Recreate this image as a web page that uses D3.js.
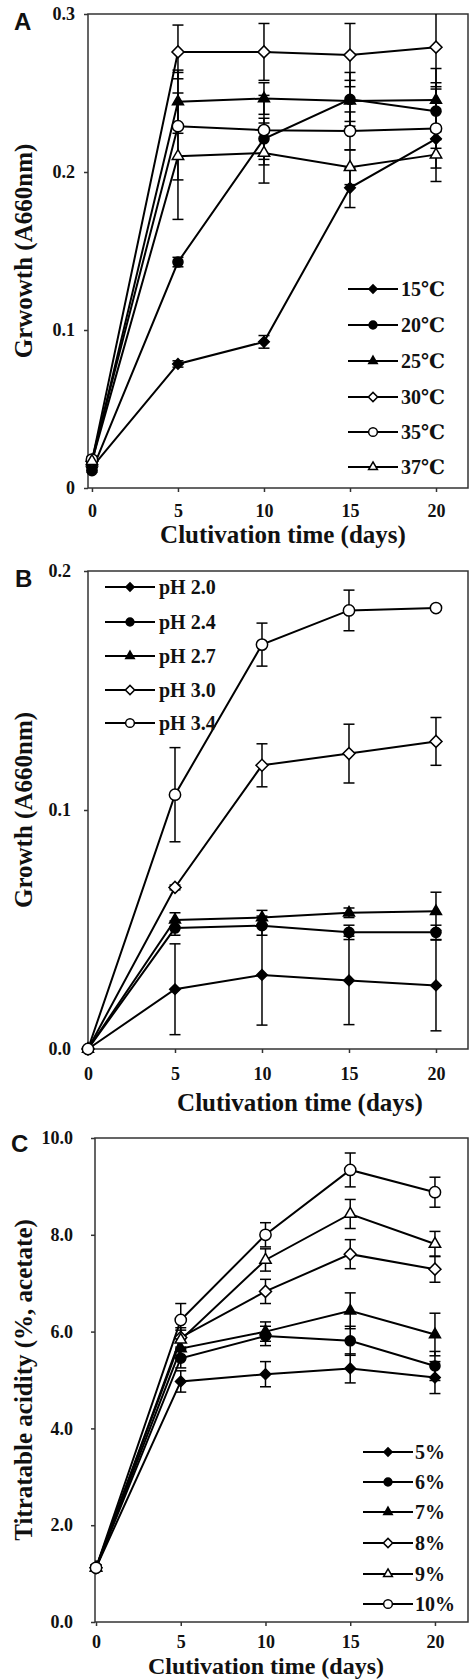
<!DOCTYPE html>
<html>
<head>
<meta charset="utf-8">
<script src="https://cdn.jsdelivr.net/npm/d3@7"></script>
<style>
body { margin: 0; background: #fff; }
text { font-family: "Liberation Serif", "DejaVu Serif", serif; font-weight: bold; fill: #111; }
</style>
</head>
<body>
<script>
// sampling days shared by all three panels
var days = [0, 5, 10, 15, 20];
var dayTicks = [0, 5, 10, 15, 20];

// A - temperature
var tempLabels = ["15\u2103", "20\u2103", "25\u2103", "30\u2103", "35\u2103", "37\u2103"];
var tempGrowth = [
  [0.013, 0.0785, 0.0925, 0.190, 0.221],
  [0.011, 0.143, 0.221, 0.246, 0.2385],
  [0.016, 0.2445, 0.2465, 0.245, 0.2455],
  [0.017, 0.276, 0.276, 0.274, 0.279],
  [0.018, 0.229, 0.2265, 0.226, 0.2275],
  [0.017, 0.210, 0.212, 0.203, 0.211]
];
var tempErr = [
  [0.002, 0.002, 0.004, 0.0125, 0.006],
  [0.001, 0.003, 0.013, 0.017, 0.018],
  [0.002, 0.020, 0.010, 0.013, 0.020],
  [0.002, 0.017, 0.018, 0.020, 0.025],
  [0.002, 0.034, 0.022, 0.012, 0.025],
  [0.002, 0.040, 0.019, 0.011, 0.017]
];
var tempTicks = [0, 0.1, 0.2, 0.3];
var tempTickLabels = ["0", "0.1", "0.2", "0.3"];

// B - pH
var phLabels = ["pH 2.0", "pH 2.4", "pH 2.7", "pH 3.0", "pH 3.4"];
var phGrowth = [
  [0, 0.025, 0.031, 0.0287, 0.0266],
  [0, 0.0506, 0.0516, 0.0488, 0.0488],
  [0, 0.054, 0.055, 0.057, 0.0576],
  [0, 0.0676, 0.1187, 0.1236, 0.1287],
  [0, 0.1064, 0.1692, 0.1835, 0.1845]
];
var phErr = [
  [0, 0.019, 0.021, 0.0185, 0.019],
  [0, 0.003, 0.004, 0.003, 0.003],
  [0, 0.003, 0.003, 0.002, 0.008],
  [0, 0.001, 0.009, 0.0123, 0.010],
  [0, 0.0197, 0.009, 0.0085, 0.001]
];
var phTicks = [0, 0.1, 0.2];
var phTickLabels = ["0.0", "0.1", "0.2"];

// C - ethanol
var ethLabels = ["5%", "6%", "7%", "8%", "9%", "10%"];
var ethAcidity = [
  [1.12, 4.97, 5.12, 5.24, 5.05],
  [1.12, 5.45, 5.91, 5.81, 5.29],
  [1.12, 5.65, 6.00, 6.43, 5.94],
  [1.12, 5.88, 6.83, 7.60, 7.29],
  [1.12, 5.83, 7.48, 8.43, 7.81],
  [1.12, 6.24, 8.00, 9.34, 8.88]
];
var ethErr = [
  [0.05, 0.22, 0.26, 0.30, 0.33],
  [0.05, 0.20, 0.20, 0.30, 0.30],
  [0.05, 0.20, 0.20, 0.37, 0.44],
  [0.05, 0.20, 0.25, 0.30, 0.27],
  [0.05, 0.20, 0.23, 0.30, 0.26],
  [0.05, 0.34, 0.25, 0.35, 0.31]
];
var ethTicks = [0, 2, 4, 6, 8, 10];
var ethTickLabels = ["0.0", "2.0", "4.0", "6.0", "8.0", "10.0"];

var markersAB = ["diamondF", "circleF", "triangleF", "diamondO", "circleO", "triangleO"];
var markersC = ["diamondF", "circleF", "triangleF", "diamondO", "triangleO", "circleO"];

var svg = d3.select("body").append("svg")
  .attr("width", 473)
  .attr("height", 1680);

function symbolFor(kind, k) {
  var shape = kind.slice(0, -1), open = kind.slice(-1) == "O";
  var type, size;
  if (shape == "diamond") { type = d3.symbolSquare; size = open ? 72 : 56; }
  else if (shape == "circle") { type = d3.symbolCircle; size = open ? 100 : 80; }
  else { type = d3.symbolTriangle; size = open ? 56 : 52; }
  return { path: d3.symbol().type(type).size(size * k)(), rot: shape == "diamond" ? 45 : 0, open: open };
}

function drawMarker(g, kind, x, y, k) {
  var s = symbolFor(kind, k);
  g.append("path")
    .attr("d", s.path)
    .attr("transform", "translate(" + x + "," + y + ") rotate(" + s.rot + ")")
    .attr("fill", s.open ? "#fff" : "#000")
    .attr("stroke", "#000")
    .attr("stroke-width", 1.5);
}

function drawPanel(p) {
  var g = svg.append("g");
  var x = d3.scaleLinear().domain(p.xDomain).range(p.xRange);
  var y = d3.scaleLinear().domain(p.yDomain).range(p.yRange).clamp(true);

  // frame
  g.append("rect")
    .attr("x", p.xRange[0]).attr("y", p.yRange[1])
    .attr("width", p.xRange[1] - p.xRange[0])
    .attr("height", p.yRange[0] - p.yRange[1])
    .attr("fill", "none").attr("stroke", "#333").attr("stroke-width", 1.5);

  var yAxis = d3.axisLeft(y).tickValues(p.yTicks)
    .tickFormat(function(d, i) { return p.yTickLabels[i]; })
    .tickSize(4).tickPadding(p.yPad);
  var ya = g.append("g").attr("transform", "translate(" + p.xRange[0] + ",0)").call(yAxis);

  var xAxis = d3.axisBottom(x).tickValues(dayTicks).tickSize(4).tickPadding(p.xPad);
  var xa = g.append("g").attr("transform", "translate(0," + p.yRange[0] + ")").call(xAxis);

  [ya, xa].forEach(function(a) {
    a.select(".domain").remove();
    a.selectAll("line").attr("stroke", "#333").attr("stroke-width", 1.5);
    a.selectAll("text").style("font-family", "Liberation Serif, serif")
      .style("font-weight", "bold").style("font-size", "18px").attr("fill", "#111");
  });

  // error bars
  p.values.forEach(function(vals, si) {
    vals.forEach(function(v, i) {
      var e = p.errs[si][i];
      if (e <= 0.0015 * p.yDomain[1]) return;
      var cx = x(days[i]);
      g.append("line").attr("x1", cx).attr("x2", cx)
        .attr("y1", y(v - e)).attr("y2", y(v + e))
        .attr("stroke", "#000").attr("stroke-width", 1.5);
      [v - e, v + e].forEach(function(t) {
        if (t > p.yDomain[1]) return;
        g.append("line").attr("x1", cx - 5.5).attr("x2", cx + 5.5)
          .attr("y1", y(t)).attr("y2", y(t))
          .attr("stroke", "#000").attr("stroke-width", 1.5);
      });
    });
  });

  // lines
  var line = d3.line().x(function(d, i) { return x(days[i]); }).y(function(d) { return y(d); });
  p.values.forEach(function(vals) {
    g.append("path").attr("d", line(vals))
      .attr("fill", "none").attr("stroke", "#000").attr("stroke-width", 2);
  });

  // markers
  p.values.forEach(function(vals, si) {
    vals.forEach(function(v, i) {
      drawMarker(g, p.markers[si], x(days[i]), y(v), 1);
    });
  });

  // legend
  p.labels.forEach(function(lab, i) {
    var ly = p.legend.y[i];
    g.append("line").attr("x1", p.legend.x).attr("x2", p.legend.x + 50)
      .attr("y1", ly).attr("y2", ly).attr("stroke", "#000").attr("stroke-width", 2);
    drawMarker(g, p.markers[i], p.legend.x + 25, ly, 0.6);
    g.append("text").attr("x", p.legend.x + p.legend.tx).attr("y", ly).attr("dy", "0.34em")
      .style("font-size", "20px").text(lab);
  });

  // titles
  g.append("text").attr("x", p.xTitle[0]).attr("y", p.xTitle[1])
    .attr("text-anchor", "middle").style("font-size", p.xTitle[2] + "px")
    .text("Clutivation time (days)");
  g.append("text")
    .attr("transform", "translate(32," + (p.yRange[0] + p.yRange[1]) / 2 + ") rotate(-90)")
    .attr("text-anchor", "middle").style("font-size", "25px")
    .text(p.yTitle);
  g.append("text").attr("x", p.letter[0]).attr("y", p.letter[1])
    .style("font-family", "Liberation Sans, Arial, sans-serif")
    .style("font-size", "24px").attr("fill", "#000").text(p.letterText);
}

drawPanel({
  values: tempGrowth, errs: tempErr, labels: tempLabels, markers: markersAB,
  xDomain: [-0.23, 21.86], xRange: [88, 468],
  yDomain: [0, 0.3], yRange: [488, 14],
  yTicks: tempTicks, yTickLabels: tempTickLabels, yPad: 9, xPad: 12,
  legend: { x: 348, tx: 53, y: [289, 325, 361, 397, 432, 467] },
  xTitle: [283, 543, 25], yTitle: "Grwowth (A660nm)",
  letter: [14, 30], letterText: "A"
});

drawPanel({
  values: phGrowth, errs: phErr, labels: phLabels, markers: markersAB.slice(0, 5),
  xDomain: [0, 21.84], xRange: [88, 468],
  yDomain: [0, 0.2], yRange: [1049, 571],
  yTicks: phTicks, yTickLabels: phTickLabels, yPad: 13, xPad: 14,
  legend: { x: 105, tx: 54, y: [587, 622, 656, 690, 723] },
  xTitle: [300, 1111, 25], yTitle: "Growth (A660nm)",
  letter: [15, 587], letterText: "B"
});

drawPanel({
  values: ethAcidity, errs: ethErr, labels: ethLabels, markers: markersC,
  xDomain: [-0.06, 21.95], xRange: [95, 468],
  yDomain: [0, 10], yRange: [1622, 1138],
  yTicks: ethTicks, yTickLabels: ethTickLabels, yPad: 18, xPad: 9,
  legend: { x: 363, tx: 52, y: [1452, 1482, 1512, 1543, 1574, 1604] },
  xTitle: [266, 1674, 24], yTitle: "Titratable acidity (%, acetate)",
  letter: [11, 1152], letterText: "C"
});
</script>
</body>
</html>
